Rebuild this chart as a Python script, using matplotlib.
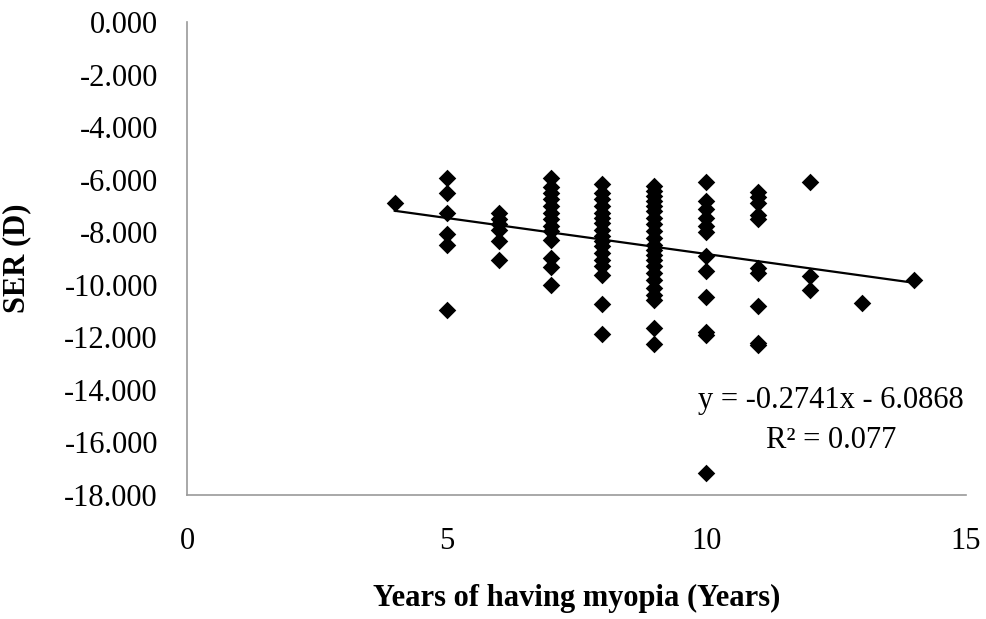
"""Scatter of SER against years of having myopia, with linear trendline."""

import matplotlib.pyplot as plt
import numpy as np

plt.rcParams["font.family"] = ["Liberation Serif", "DejaVu Serif"]

# SER (D) readings for each year value
ser_4 = [-6.87]
ser_5 = [-5.95, -6.49, -7.28, -8.08, -8.50, -10.96]
ser_6 = [-7.25, -7.50, -7.70, -7.90, -8.34, -9.04]
ser_7 = [-5.95, -6.29, -6.49, -6.74, -7.00, -7.25, -7.50, -7.77, -7.96,
         -8.28, -8.97, -9.31, -10.00]
ser_8 = [-6.17, -6.49, -6.74, -7.00, -7.25, -7.44, -7.64, -7.90, -8.15,
         -8.34, -8.53, -8.79, -9.04, -9.30, -9.62, -10.73, -11.88]
ser_9 = [-6.23, -6.42, -6.62, -6.81, -7.00, -7.19, -7.45, -7.70, -7.96,
         -8.21, -8.47, -8.66, -8.85, -9.04, -9.30, -9.55, -9.81, -10.13,
         -10.38, -10.57, -11.65, -12.26]
ser_10 = [-6.10, -6.81, -7.13, -7.44, -7.77, -8.00, -8.91, -9.49, -10.45,
          -11.79, -11.90, -17.16]
ser_11 = [-6.48, -6.65, -6.87, -7.35, -7.50, -9.35, -9.55, -10.80, -12.20,
          -12.30]
ser_12 = [-6.10, -9.68, -10.19]
ser_13 = [-10.70]
ser_14 = [-9.81]

years = [4, 5, 6, 7, 8, 9, 10, 11, 12, 13, 14]
groups = [ser_4, ser_5, ser_6, ser_7, ser_8, ser_9, ser_10, ser_11, ser_12,
          ser_13, ser_14]

# trendline as reported on the chart
slope = -0.2741
intercept = -6.0868
r_squared = 0.077

x = np.concatenate([[yr] * len(g) for yr, g in zip(years, groups)])
y = np.concatenate(groups)

fig = plt.figure(figsize=(9.86, 6.19), dpi=100)
ax = fig.add_axes([0.1897, 0.2003, 0.7900, 0.7641])

ax.scatter(x, y, marker="D", s=80, color="black", zorder=3, linewidths=0)

xl = np.array([x.min(), x.max()])
ax.plot(xl, slope * xl + intercept, color="black", lw=1.6, zorder=2)

ax.set_xlim(0, 15)
ax.set_ylim(-18, 0)
ax.set_xticks([0, 5, 10, 15])
ax.set_yticks(np.arange(-18, 1, 2))
ax.yaxis.set_major_formatter(plt.FormatStrFormatter("%.3f"))

for side in ["top", "right"]:
    ax.spines[side].set_visible(False)
for side in ["left", "bottom"]:
    ax.spines[side].set_color("#9a9a9a")
    ax.spines[side].set_linewidth(1.2)

ax.tick_params(axis="both", length=0, labelsize=22)
ax.tick_params(axis="y", pad=21)
ax.tick_params(axis="x", pad=23)

ax.set_xlabel("Years of having myopia (Years)", fontsize=22,
              fontweight="bold", labelpad=20)
ax.set_ylabel("SER (D)", fontsize=22, fontweight="bold", labelpad=24)

ax.text(12.4, -15.15, f"y = {slope}x - {abs(intercept)}\nR² = {r_squared}",
        fontsize=22, ha="center", va="center", multialignment="center",
        linespacing=1.5)

fig.savefig("out.png", dpi=100)
